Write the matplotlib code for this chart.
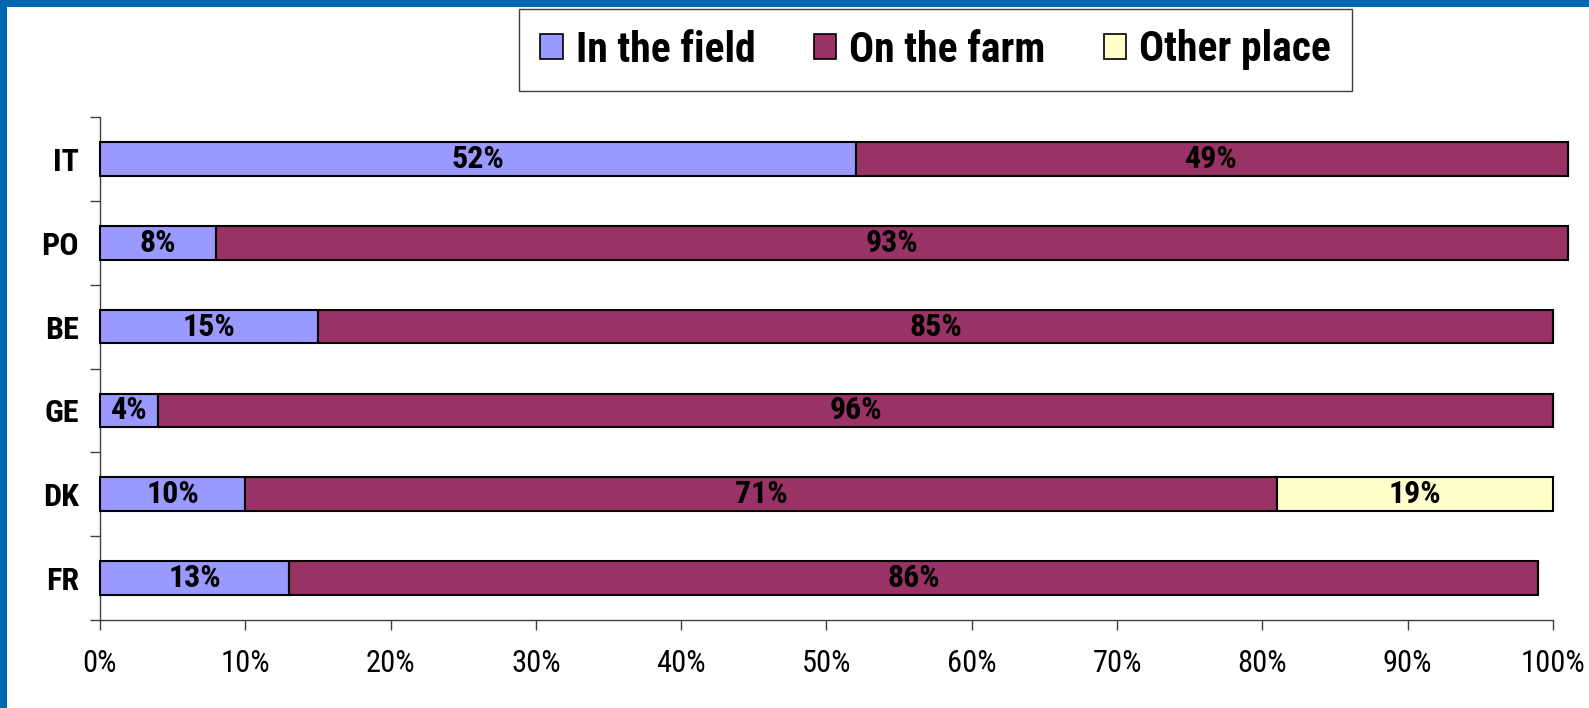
import matplotlib
matplotlib.use("Agg")
import matplotlib.pyplot as plt
from matplotlib.patches import Rectangle, Patch
from matplotlib.ticker import FixedLocator

plt.rcParams['font.family'] = ['Roboto Condensed', 'Liberation Sans', 'DejaVu Sans']

countries = ["IT", "PO", "BE", "GE", "DK", "FR"]
in_field = [52, 8, 15, 4, 10, 13]
on_farm = [49, 93, 85, 96, 71, 86]
other_place = [0, 0, 0, 0, 19, 0]
series_names = ["In the field", "On the farm", "Other place"]
series_colors = ["#9999FF", "#993366", "#FFFFCC"]
x_ticks = [0, 10, 20, 30, 40, 50, 60, 70, 80, 90, 100]

W, H = 1589, 708
fig = plt.figure(figsize=(W / 100, H / 100), dpi=100)
fig.patch.set_facecolor("white")

# blue frame strips along the top and left edges
fig.patches.append(Rectangle((0, 1 - 7 / H), 1, 7 / H, transform=fig.transFigure,
                             facecolor="#0068B0", edgecolor="none", zorder=0))
fig.patches.append(Rectangle((0, 0), 7 / W, 1, transform=fig.transFigure,
                             facecolor="#0068B0", edgecolor="none", zorder=0))

ax = fig.add_axes([100 / W, 1 - 620 / H, (1553 - 100) / W, (620 - 117) / H])

y = list(range(len(countries)))
left = [0] * len(countries)
for vals, color in zip([in_field, on_farm, other_place], series_colors):
    bars = ax.barh(y, vals, left=left, height=0.4, color=color,
                   edgecolor="black", linewidth=1.5, clip_on=False, zorder=3)
    for b, v, l in zip(bars, vals, left):
        if v > 0:
            ax.text(l + v / 2, b.get_y() + b.get_height() / 2, f"{v}%",
                    ha="center", va="center", fontsize=23, fontweight="bold",
                    color="black", zorder=4)
    left = [a + b for a, b in zip(left, vals)]

ax.set_xlim(0, 100)
ax.set_ylim(len(countries) - 0.5, -0.5)

ax.set_xticks(x_ticks)
ax.set_xticklabels([f"{t}%" for t in x_ticks], fontsize=22)
ax.set_yticks(y)
ax.set_yticklabels(countries, fontsize=23, fontweight="bold")
ax.yaxis.set_minor_locator(FixedLocator([i - 0.5 for i in range(len(countries) + 1)]))

ax.tick_params(axis="y", which="major", length=0, pad=15)
ax.tick_params(axis="y", which="minor", length=7, width=1, color="#404040", direction="out")
ax.tick_params(axis="x", which="major", length=7, width=1, color="#404040",
               direction="out", pad=14)

for side in ["top", "right"]:
    ax.spines[side].set_visible(False)
for side in ["left", "bottom"]:
    ax.spines[side].set_color("#404040")
    ax.spines[side].set_linewidth(1)

handles = [Patch(facecolor=c, edgecolor="black", linewidth=1.2) for c in series_colors]
leg = fig.legend(handles, series_names, loc="center",
                 bbox_to_anchor=((511 + 1360) / 2 / W, 1 - 50 / H),
                 ncol=3, frameon=True, fancybox=False, edgecolor="#404040",
                 prop={"size": 30, "weight": "bold"},
                 handlelength=0.55, handleheight=0.55, handletextpad=0.3,
                 columnspacing=1.4, borderpad=0.5, framealpha=1)
leg.get_frame().set_linewidth(1)

fig.savefig("out.png", dpi=100, facecolor="white")
